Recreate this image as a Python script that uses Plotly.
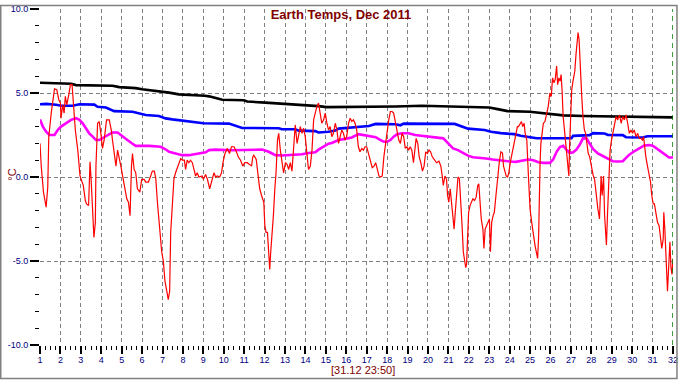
import plotly.graph_objects as go

# ---------------- data ----------------
red_days = [1.0, 1.06, 1.17, 1.30, 1.38, 1.43, 1.55, 1.63, 1.71, 1.82, 1.92, 2.0, 2.03, 2.11, 2.18, 2.24, 2.31, 2.41, 2.49, 2.57, 2.63, 2.73, 2.85, 2.96,
            3.06, 3.12, 3.22, 3.28, 3.38, 3.45, 3.51, 3.58, 3.64, 3.71, 3.74, 3.82, 3.90, 3.98, 4.06, 4.14, 4.26, 4.39, 4.49, 4.55, 4.63, 4.72, 4.80, 4.88, 4.96,
            5.07, 5.17, 5.25, 5.33, 5.41, 5.48, 5.53, 5.61, 5.69, 5.77, 5.89, 5.98, 6.10, 6.18, 6.31, 6.42, 6.50, 6.60, 6.67, 6.75, 6.86, 6.96,
            7.04, 7.12, 7.24, 7.28, 7.35, 7.40, 7.48, 7.56, 7.64, 7.77, 7.89, 7.97, 8.07, 8.13, 8.21, 8.29, 8.37, 8.46, 8.54, 8.62, 8.70, 8.78, 8.94,
            9.0, 9.11, 9.20, 9.31, 9.41, 9.52, 9.60, 9.68, 9.80, 9.89, 9.96, 10.06, 10.17, 10.28, 10.38, 10.50, 10.61, 10.71, 10.82, 10.93,
            11.03, 11.15, 11.26, 11.36, 11.42, 11.47, 11.59, 11.68, 11.76, 11.85, 11.96, 12.01, 12.07, 12.14, 12.20, 12.25, 12.30, 12.37, 12.43, 12.50,
            12.56, 12.63, 12.69, 12.77, 12.85, 12.93, 13.02, 13.10, 13.18, 13.26, 13.34, 13.42, 13.50, 13.59, 13.67, 13.75, 13.83, 13.91, 13.99,
            14.07, 14.15, 14.24, 14.32, 14.40, 14.48, 14.56, 14.64, 14.72, 14.80, 14.89, 14.97, 15.05, 15.13, 15.21, 15.29, 15.37, 15.46, 15.54,
            15.62, 15.70, 15.78, 15.86, 15.94, 16.02, 16.11, 16.19, 16.27, 16.35, 16.43, 16.51, 16.59, 16.67, 16.76, 16.84, 16.92,
            17.0, 17.08, 17.19, 17.27, 17.36, 17.44, 17.52, 17.60, 17.68, 17.76, 17.84, 17.92, 18.0, 18.08, 18.16, 18.24, 18.32, 18.41, 18.49,
            18.57, 18.65, 18.73, 18.81, 18.89, 18.97, 19.05, 19.13, 19.21, 19.29, 19.37, 19.42, 19.50, 19.57, 19.65, 19.73, 19.81, 19.89, 19.97,
            20.05, 20.13, 20.21, 20.31, 20.42, 20.54, 20.63, 20.70, 20.75, 20.83, 20.91, 20.96, 21.02, 21.09, 21.15, 21.22, 21.28, 21.35, 21.41,
            21.47, 21.54, 21.60, 21.67, 21.73, 21.80, 21.85, 21.89, 21.94, 21.99, 22.06, 22.12, 22.20, 22.28, 22.36, 22.44, 22.49, 22.54, 22.61,
            22.69, 22.74, 22.80, 22.86, 22.93, 23.01, 23.06, 23.12, 23.19, 23.25, 23.33, 23.41, 23.49, 23.57, 23.65, 23.70, 23.77, 23.83, 23.90,
            23.96, 24.03, 24.09, 24.16, 24.22, 24.30, 24.38, 24.43, 24.51, 24.58, 24.64, 24.71, 24.76, 24.84, 24.92,
            25.0, 25.08, 25.16, 25.24, 25.32, 25.37, 25.42, 25.45, 25.49, 25.53, 25.60, 25.65, 25.73, 25.81, 25.89, 25.97, 26.04, 26.10, 26.17,
            26.23, 26.30, 26.35, 26.41, 26.47, 26.52, 26.57, 26.62, 26.70, 26.78, 26.85, 26.90, 26.94, 26.99, 27.04, 27.11, 27.19, 27.25, 27.30,
            27.35, 27.40, 27.43, 27.48, 27.53, 27.59, 27.66, 27.72, 27.79, 27.85, 27.92, 28.0, 28.08, 28.16, 28.24, 28.32, 28.40, 28.48, 28.53,
            28.60, 28.65, 28.70, 28.74, 28.79, 28.86, 28.92, 28.99, 29.05, 29.13, 29.21, 29.29, 29.38, 29.46, 29.54, 29.62, 29.70, 29.78, 29.86,
            29.94, 30.02, 30.10, 30.19, 30.27, 30.35, 30.43, 30.51, 30.56, 30.61, 30.67, 30.75, 30.83, 30.90, 30.96, 31.03, 31.09, 31.16, 31.24,
            31.32, 31.39, 31.45, 31.52, 31.55, 31.60, 31.65, 31.69, 31.73, 31.77, 31.82, 31.85, 31.90, 31.95, 32.0]
red_temps = [2.0, 0.65, -0.9, -1.8, -0.6, 2.4, 3.8, 4.4, 5.25, 5.2, 4.6, 4.4, 3.5, 4.3, 3.8, 4.8, 4.3, 4.9, 5.5, 5.5, 4.4, 2.8, 1.6, 0.06,
             -0.3, -0.5, -1.4, -1.6, -1.7, 0.9, -0.3, -1.9, -3.6, -2.7, 0.65, 3.2, 3.3, 2.6, 1.7, 2.2, 3.4, 3.4, 2.8, 2.2, 1.6, 0.65, 1.6, 1.2, 0.65,
             -0.1, -0.7, -1.3, -1.5, -2.3, 0.65, 1.4, 0.45, 0.25, -0.7, -0.9, -0.14, -0.14, -0.3, -0.3, 0.06, 0.35, 0.35, -0.1, -1.5, -3.3, -4.45,
             -5.0, -6.2, -7.0, -7.3, -6.8, -3.3, -1.7, -0.1, 0.25, 0.65, 1.1, 1.0, 1.0, 0.45, 1.0, 0.85, 1.0, 0.85, 0.35, 0.06, 0.25, 0.0, 0.06,
             -0.14, 0.15, -0.14, -0.7, -0.3, 0.25, 0.0, 0.06, 0.0, 0.25, 0.85, 1.4, 1.7, 1.4, 1.8, 1.8, 1.53, 1.2, 1.0, 0.65,
             0.85, 0.85, 0.75, 0.65, 1.2, 1.3, 1.04, 0.06, -0.7, -1.1, -1.5, -2.9, -3.3, -3.3, -4.45, -5.5, -4.45, -3.5, -2.3, -0.7,
             0.25, 2.2, 2.6, 1.6, 1.0, 0.25, 0.85, 0.75, 0.45, 0.85, 0.35, 1.6, 3.1, 2.0, 2.6, 3.0, 2.6, 2.9, 2.4,
             1.6, 0.45, 0.65, 1.6, 3.4, 3.9, 4.2, 4.4, 3.8, 3.2, 3.4, 3.8, 3.2, 2.8, 3.0, 2.4, 2.6, 3.2, 2.8,
             2.0, 2.4, 2.8, 2.6, 2.2, 2.4, 3.2, 3.5, 3.3, 3.4, 3.2, 2.8, 1.8, 1.5, 1.7, 1.6, 1.8,
             1.8, 1.4, 1.0, 0.55, 0.65, 0.85, 0.45, 0.06, 0.0, 0.06, 1.2, 2.0, 2.6, 3.4, 3.9, 3.9, 3.8, 3.2, 2.8,
             2.2, 2.0, 2.6, 2.4, 1.7, 1.8, 1.6, 1.8, 1.6, 0.85, 2.0, 2.3, 2.0, 1.2, 0.85, 0.35, 0.65, 1.5, 1.4,
             1.6, 1.5, 1.2, 1.04, 0.85, 0.94, 0.65, 0.06, -0.5, 0.06, -0.14, -1.1, -1.5, -0.7, -1.5, -2.3, -3.1, -1.9, -0.9,
             0.0, -0.1, -1.9, -2.9, -4.45, -5.0, -5.4, -5.2, -3.1, -2.1, -1.7, -1.5, -1.3, -1.4, -1.2, -0.5, -0.4, -1.3, -2.5,
             -3.1, -4.25, -3.1, -2.9, -2.7, -2.5, -4.45, -2.7, -2.3, -2.1, -1.1, 0.06, 0.85, 1.5, 1.43, 0.65, 0.25, 0.06, 0.0,
             0.25, 0.85, 1.2, 1.6, 2.0, 2.6, 3.0, 3.0, 3.2, 3.3, 3.0, 3.2, 2.6, 2.2, 0.06,
             -1.9, -2.7, -3.5, -4.05, -4.55, -4.85, -3.5, -1.1, 0.85, 2.0, 2.6, 3.2, 3.3, 3.7, 4.2, 5.0, 4.8, 5.9, 5.6,
             5.8, 6.6, 5.5, 5.9, 5.7, 6.1, 5.1, 3.6, 2.6, 1.4, 0.65, 0.06, 2.0, 3.6, 5.2, 5.75, 6.3, 7.3, 8.1,
             8.6, 8.2, 7.3, 6.1, 4.8, 3.6, 2.8, 2.6, 1.8, 1.4, 1.2, 0.65, 0.15, -0.14, -1.1, -1.9, -2.5, 0.06, -1.1,
             0.06, -2.3, -3.1, -4.05, -2.3, 0.06, 1.6, 2.2, 2.6, 3.0, 3.6, 3.4, 3.7, 3.2, 3.6, 3.4, 3.7, 3.2, 2.6,
             2.8, 2.6, 2.8, 2.4, 2.6, 2.3, 2.3, 2.2, 2.4, 1.6, 1.2, 0.65, 0.06, -0.3, -1.1, -1.6, -1.6, -2.1, -2.7,
             -2.9, -3.5, -4.25, -3.7, -2.1, -3.1, -5.0, -6.2, -6.8, -5.8, -4.65, -3.85, -5.4, -5.8, -4.85]

magenta_days = [1.0, 1.14, 1.30, 1.46, 1.71, 1.87, 2.03, 2.28, 2.52, 2.76, 2.93, 3.09, 3.25, 3.41, 3.58, 3.74, 3.90, 4.06, 4.23, 4.39,
                4.55, 4.80, 5.04, 5.28, 5.53, 5.69, 6.34, 6.91, 7.15, 7.32, 7.64, 7.97, 8.29, 8.54, 8.78, 9.11, 9.28, 9.60, 10.41,
                11.23, 11.88, 12.20, 12.53, 12.85, 13.50, 13.83, 14.15, 14.48, 14.64, 14.80, 14.97, 15.13, 15.29, 15.46, 15.62,
                15.94, 16.27, 16.59, 16.84, 17.11, 17.44, 17.68, 17.84, 18.0, 18.16, 18.32, 18.49, 18.73, 19.05, 19.37, 19.70,
                20.02, 20.34, 20.75, 20.99, 21.23, 21.47, 21.72, 21.96, 22.20, 22.61, 22.85, 23.17, 23.41, 23.74, 24.06, 24.30,
                24.60, 24.92, 25.16, 25.41, 25.65, 25.97, 26.13, 26.30, 26.46, 26.62, 26.78, 26.94, 27.11, 27.27, 27.43, 27.59,
                27.76, 27.92, 28.08, 28.32, 28.57, 28.81, 29.05, 29.29, 29.54, 29.70, 29.86, 30.10, 30.35, 30.59, 30.83, 31.0,
                31.16, 31.40, 31.65, 31.81, 32.0]
magenta_temps = [3.43, 3.0, 2.7, 2.5, 2.5, 2.8, 3.0, 3.2, 3.4, 3.5, 3.4, 3.2, 2.9, 2.6, 2.4, 2.2, 2.2, 2.3, 2.4, 2.5,
                 2.65, 2.65, 2.4, 2.2, 1.98, 1.85, 1.85, 1.8, 1.65, 1.5, 1.4, 1.3, 1.3, 1.35, 1.43, 1.47, 1.6, 1.63, 1.59,
                 1.59, 1.63, 1.5, 1.3, 1.28, 1.3, 1.35, 1.43, 1.47, 1.63, 1.73, 1.86, 1.98, 2.02, 2.1, 2.2,
                 2.27, 2.35, 2.55, 2.5, 2.48, 2.37, 2.2, 2.1, 2.1, 2.2, 2.4, 2.55, 2.6, 2.6, 2.5, 2.45,
                 2.4, 2.35, 2.3, 2.0, 1.7, 1.6, 1.43, 1.27, 1.18, 1.14, 1.1, 1.04, 1.0, 0.94, 0.92, 0.9,
                 0.96, 1.04, 1.0, 0.88, 0.84, 0.84, 1.04, 1.5, 1.78, 1.86, 1.63, 1.43, 1.47, 1.63, 1.92, 2.3,
                 2.3, 2.0, 1.67, 1.4, 1.24, 1.08, 0.94, 0.92, 0.94, 1.14, 1.33, 1.53, 1.73, 1.88, 1.9, 1.86,
                 1.73, 1.53, 1.27, 1.16, 1.16]

blue_days = [1.0, 1.30, 1.79, 2.03, 2.60, 2.93, 3.66, 3.82, 4.23, 4.47, 4.63, 5.53, 5.85, 6.18, 6.83, 7.15, 7.48, 7.97, 8.21, 8.62,
             9.0, 10.25, 10.58, 10.90, 12.69, 12.85, 13.50, 13.67, 14.48, 14.64, 15.13, 15.46, 15.62, 16.43, 17.0, 17.11, 17.44,
             18.41, 18.65, 18.81, 21.31, 21.64, 21.96, 22.77, 23.09, 23.57, 24.22, 24.54, 25.0, 25.32, 27.03, 27.11, 27.92, 28.08,
             28.65, 28.81, 29.54, 29.70, 30.51, 30.75, 32.0]
blue_temps = [4.33, 4.35, 4.3, 4.24, 4.24, 4.33, 4.31, 4.18, 4.14, 3.98, 3.92, 3.88, 3.78, 3.69, 3.63, 3.49, 3.43, 3.35, 3.29, 3.24,
              3.2, 3.18, 3.06, 2.92, 2.9, 2.84, 2.84, 2.76, 2.73, 2.65, 2.69, 2.76, 2.88, 2.96, 3.02, 3.04, 3.16,
              3.14, 3.08, 3.18, 3.16, 3.0, 2.88, 2.8, 2.69, 2.61, 2.55, 2.45, 2.37, 2.31, 2.31, 2.45, 2.49, 2.61,
              2.59, 2.5, 2.49, 2.37, 2.35, 2.43, 2.43]

black_days = [1.0, 1.95, 2.52, 2.76, 4.55, 4.88, 5.69, 6.0, 6.42, 7.07, 7.32, 7.80, 8.62, 9.07, 9.28, 9.93, 10.98, 11.15, 12.04,
              13.02, 14.15, 14.64, 15.05, 17.05, 18.41, 19.70, 21.64, 23.0, 23.41, 23.90, 24.99, 25.49, 25.97, 26.62, 27.59,
              29.21, 30.67, 32.0]
black_temps = [5.61, 5.57, 5.55, 5.47, 5.43, 5.35, 5.29, 5.22, 5.16, 5.1, 5.02, 4.92, 4.88, 4.84, 4.8, 4.6, 4.57, 4.49, 4.43,
               4.35, 4.29, 4.22, 4.16, 4.16, 4.2, 4.24, 4.18, 4.14, 4.04, 3.92, 3.88, 3.82, 3.75, 3.67, 3.63,
               3.61, 3.57, 3.55]

x_ticks = list(range(1, 33))
x_grid = list(range(2, 32))
y_ticks = [-10, -5, 0, 5, 10]
y_grid = [-5, 0, 5]
y_ticklabels = ["-10.0", "-5.0", "0.0", "5.0", "10.0"]
title_text = "Earth Temps, Dec 2011"
y_title = "°C"
time_label = "[31.12 23:50]"

# ---------------- figure ----------------
FONT = "Arial, Liberation Sans, sans-serif"
NAVY = "#000080"
DARKRED = "#800000"
GRID = dict(showgrid=True, gridcolor="#808080", gridwidth=1, griddash="4px,3px")

fig = go.Figure()
fig.add_trace(go.Scatter(x=black_days, y=black_temps, mode="lines", line=dict(color="#000000", width=2.6), hoverinfo="skip"))
fig.add_trace(go.Scatter(x=blue_days, y=blue_temps, mode="lines", line=dict(color="#0000FF", width=2.6), hoverinfo="skip"))
fig.add_trace(go.Scatter(x=magenta_days, y=magenta_temps, mode="lines", line=dict(color="#FF00FF", width=2.6), hoverinfo="skip"))
fig.add_trace(go.Scatter(x=red_days, y=red_temps, mode="lines", line=dict(color="#FF0000", width=1.2), hoverinfo="skip"))

W, H = 682, 380
ml, mr, mt, mb = 40, 5, 4, 35
pw, ph = W - ml - mr, H - mt - mb

def px_to_paper_x(px):
    return (px - ml) / pw

def px_to_paper_y(py):
    return (H - mb - py) / ph

fig.update_layout(
    width=W, height=H,
    margin=dict(l=ml, r=mr, t=mt, b=mb),
    paper_bgcolor="white", plot_bgcolor="white",
    showlegend=False,
    font=dict(family=FONT, size=9, color=NAVY),
    title=dict(text=title_text, x=0.5, xref="container", xanchor="center",
               y=1 - 14 / H, yref="container", yanchor="middle",
               font=dict(family=FONT, size=13, color=DARKRED, weight="bold")),
    xaxis=dict(
        range=[1, 32], tickmode="array", tickvals=x_ticks, ticktext=[str(v) for v in x_ticks],
        showgrid=False, zeroline=False, showline=False,
        ticks="outside", ticklen=8, tickwidth=2, tickcolor="black", ticklabeloverflow="allow",
        ticklabelstandoff=-2,
        tickfont=dict(family=FONT, size=9, color=NAVY),
        minor=dict(dtick=0.25, ticks="outside", ticklen=4, tickwidth=1, tickcolor="black", showgrid=False),
    ),
    yaxis=dict(
        range=[-10, 10], tickmode="array", tickvals=y_ticks, ticktext=y_ticklabels,
        showgrid=False, zeroline=False, showline=False,
        ticks="outside", ticklen=9, tickwidth=1.5, tickcolor="black", ticklabeloverflow="allow",
        tickfont=dict(family=FONT, size=9, color=NAVY),
        minor=dict(dtick=1, ticks="outside", ticklen=4, tickwidth=1, tickcolor="black", showgrid=False),
    ),
    # overlay axes that only carry the dashed interior grid
    xaxis2=dict(overlaying="x", anchor="y", range=[1, 32], tickmode="array", tickvals=x_grid,
                showticklabels=False, ticks="", zeroline=False, showline=False, **GRID),
    yaxis2=dict(overlaying="y", anchor="x", range=[-10, 10], tickmode="array", tickvals=y_grid,
                showticklabels=False, ticks="", zeroline=False, showline=False, **GRID),
)
# invisible carrier trace so the overlay axes are drawn
fig.add_trace(go.Scatter(x=[1], y=[0], xaxis="x2", yaxis="y2", mode="markers",
                         marker=dict(opacity=0), hoverinfo="skip"))

# current-time marker at the right edge
fig.add_shape(type="line", xref="x", yref="paper", x0=32, x1=32, y0=0, y1=1,
              line=dict(color="#008000", width=1.5, dash="5px,4px"))
# outer frame
fig.add_shape(type="rect", xref="paper", yref="paper",
              x0=px_to_paper_x(0.5), x1=px_to_paper_x(681), y0=px_to_paper_y(379), y1=px_to_paper_y(0.5),
              line=dict(color="#808080", width=1.5), fillcolor="rgba(0,0,0,0)", layer="above")

fig.add_annotation(text=y_title, xref="paper", yref="paper", x=px_to_paper_x(11), y=px_to_paper_y(172),
                   showarrow=False, textangle=-90, xanchor="center", yanchor="middle",
                   font=dict(family=FONT, size=11, color=DARKRED))
fig.add_annotation(text=time_label, xref="paper", yref="paper", x=px_to_paper_x(365), y=px_to_paper_y(370),
                   showarrow=False, xanchor="center", yanchor="middle",
                   font=dict(family=FONT, size=11, color=DARKRED))

fig.write_html("out.html", config={"displayModeBar": False},
               post_script="document.body.style.margin='0';document.body.style.overflow='hidden';")
